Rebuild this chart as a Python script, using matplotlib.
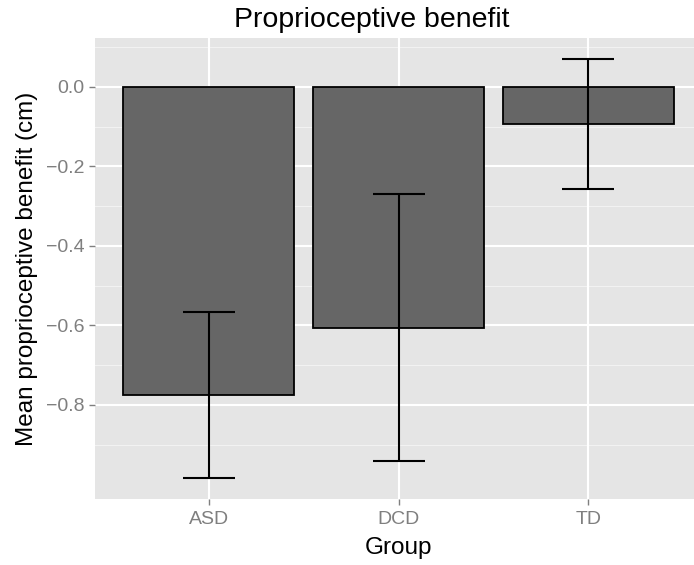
import matplotlib
matplotlib.use("Agg")
import matplotlib.pyplot as plt
import numpy as np

groups = ["ASD", "DCD", "TD"]
means = [-0.776, -0.606, -0.093]
err_low = [-0.984, -0.942, -0.257]
err_high = [-0.567, -0.270, 0.070]
y_ticks = [0.0, -0.2, -0.4, -0.6, -0.8]
y_tick_labels = ["0.0", "-0.2", "-0.4", "-0.6", "-0.8"]
y_minor = [0.1, -0.1, -0.3, -0.5, -0.7, -0.9]

plt.rcParams['font.family'] = ['Liberation Sans', 'DejaVu Sans']

W, H = 694, 565
fig = plt.figure(figsize=(W/100, H/100), dpi=100)
left, right, top, bottom = 95, 702, 38, 499
ax = fig.add_axes([left/W, 1-bottom/H, (right-left)/W, (bottom-top)/H])
ax.set_facecolor("#E5E5E5")
for s in ax.spines.values():
    s.set_visible(False)

x = np.arange(1, len(groups)+1)
ax.set_xlim(0.4, 3.6)
ymin = min(err_low); ymax = max(err_high); span = ymax - ymin
ax.set_ylim(ymin - 0.05*span, ymax + 0.05*span)

for yv in y_minor:
    ax.axhline(yv, color="#F2F2F2", lw=0.8, zorder=0)
for yv in y_ticks:
    ax.axhline(yv, color="white", lw=1.5, zorder=0.5)
for xv in x:
    ax.axvline(xv, color="white", lw=1.5, zorder=0.5)

ax.bar(x, means, width=0.9, color="#666666", edgecolor="black", linewidth=1.3, zorder=2)
lo = np.array(means) - np.array(err_low)
hi = np.array(err_high) - np.array(means)
ax.errorbar(x, means, yerr=[lo, hi], fmt="none", ecolor="black", elinewidth=1.5,
            capsize=19, capthick=1.5, zorder=3)

ax.set_xticks(x)
ax.set_xticklabels(groups)
ax.set_yticks(y_ticks)
ax.set_yticklabels([t.replace("-", "\u2212") for t in y_tick_labels])
ax.tick_params(axis="both", colors="#7F7F7F", labelcolor="#7F7F7F", labelsize=14,
               length=4.5, width=1.0, direction="out", pad=3)
ax.tick_params(axis="x", pad=4.5)

ax.set_xlabel("Group", fontsize=17.5, color="black", labelpad=6)
ax.set_ylabel("Mean proprioceptive benefit (cm)", fontsize=17.5, color="black", labelpad=6)
fig.text(372/W, 1-20/H, "Proprioceptive benefit", ha="center", va="center", fontsize=20.5)

fig.savefig("out.png", dpi=100)
